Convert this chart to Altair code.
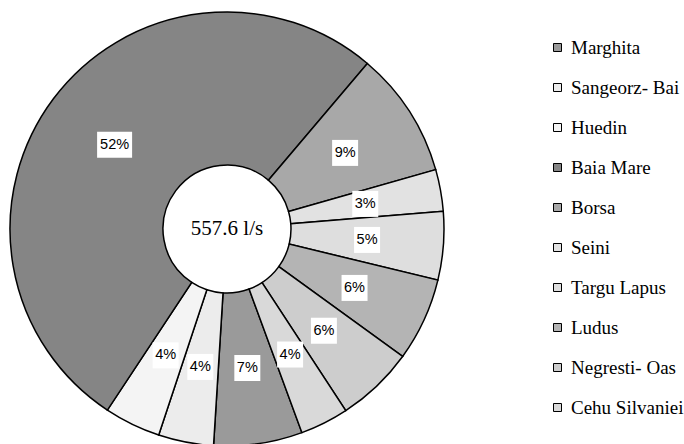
import math
import altair as alt
import pandas as pd

# Data (l/s per station), order as in legend / clockwise order of the slices
names = ["Marghita", "Sangeorz- Bai", "Huedin", "Baia Mare", "Borsa", "Seini",
         "Targu Lapus", "Ludus", "Negresti- Oas", "Cehu Silvaniei"]
flows = [36.8, 22.9, 23.4, 289.4, 52.4, 17.3, 28.4, 34.6, 32.3, 20.1]
shades = ["#9a9a9a", "#ececec", "#f4f4f4", "#858585", "#a8a8a8",
          "#e2e2e2", "#dedede", "#b4b4b4", "#cdcdcd", "#d9d9d9"]
unit = "l/s"

START = math.radians(159.8)
R_OUT, R_IN, R_LAB = 217, 64, 140.5

df = pd.DataFrame({"name": names, "flow": flows, "idx": list(range(len(names)))})

base = alt.Chart(df).transform_joinaggregate(
    total="sum(flow)"
).transform_calculate(
    pct="format(datum.flow / datum.total, '.0%')"
)

theta = alt.Theta("flow:Q", stack=True,
                  scale=alt.Scale(range=[START, START + 2 * math.pi]))
order = alt.Order("idx:Q", sort="ascending")

arcs = base.mark_arc(radius=R_OUT, radius2=R_IN, stroke="black",
                     strokeWidth=1.5).encode(
    theta=theta,
    order=order,
    color=alt.Color("name:N", sort=names,
                    scale=alt.Scale(domain=names, range=shades),
                    legend=alt.Legend(orient="none", legendX=548, legendY=38,
                                      title=None, symbolType="square",
                                      symbolSize=64, symbolStrokeColor="black",
                                      symbolStrokeWidth=1, symbolOpacity=1,
                                      labelFont="Liberation Serif",
                                      labelFontSize=19, labelColor="black",
                                      rowPadding=20, labelOffset=4)),
)

boxes = base.transform_window(
    cum="sum(flow)", sort=[alt.SortField("idx")], frame=[None, 0]
).transform_calculate(
    ang=f"{START} + 2*PI*(datum.cum - datum.flow/2)/datum.total",
    cx=f"width/2 + {R_LAB}*sin(datum.ang)",
    cy=f"height/2 - {R_LAB}*cos(datum.ang)",
    bw="9*length(datum.pct) + 8",
    x1="datum.cx - datum.bw/2",
    x2="datum.cx + datum.bw/2",
    y1="datum.cy - 13",
    y2="datum.cy + 13",
).mark_rect(color="white").encode(
    x=alt.X("x1:Q", scale=None, axis=None),
    x2="x2:Q",
    y=alt.Y("y1:Q", scale=None, axis=None),
    y2="y2:Q",
)

labels = base.mark_text(radius=R_LAB, font="Liberation Sans", fontSize=14.5,
                        color="black").encode(
    theta=theta,
    order=order,
    text="pct:N",
)

center = alt.Chart(df).transform_aggregate(
    total="sum(flow)"
).transform_calculate(
    lab=f"format(datum.total, '.1f') + ' {unit}'"
).mark_text(font="Liberation Serif", fontSize=21, color="black").encode(
    text="lab:N"
)

chart = alt.layer(arcs, boxes, labels, center).properties(
    width=454, height=458, padding=0
).configure_view(stroke=None)

chart.save("out.html", embed_options={"renderer": "svg", "actions": False})
